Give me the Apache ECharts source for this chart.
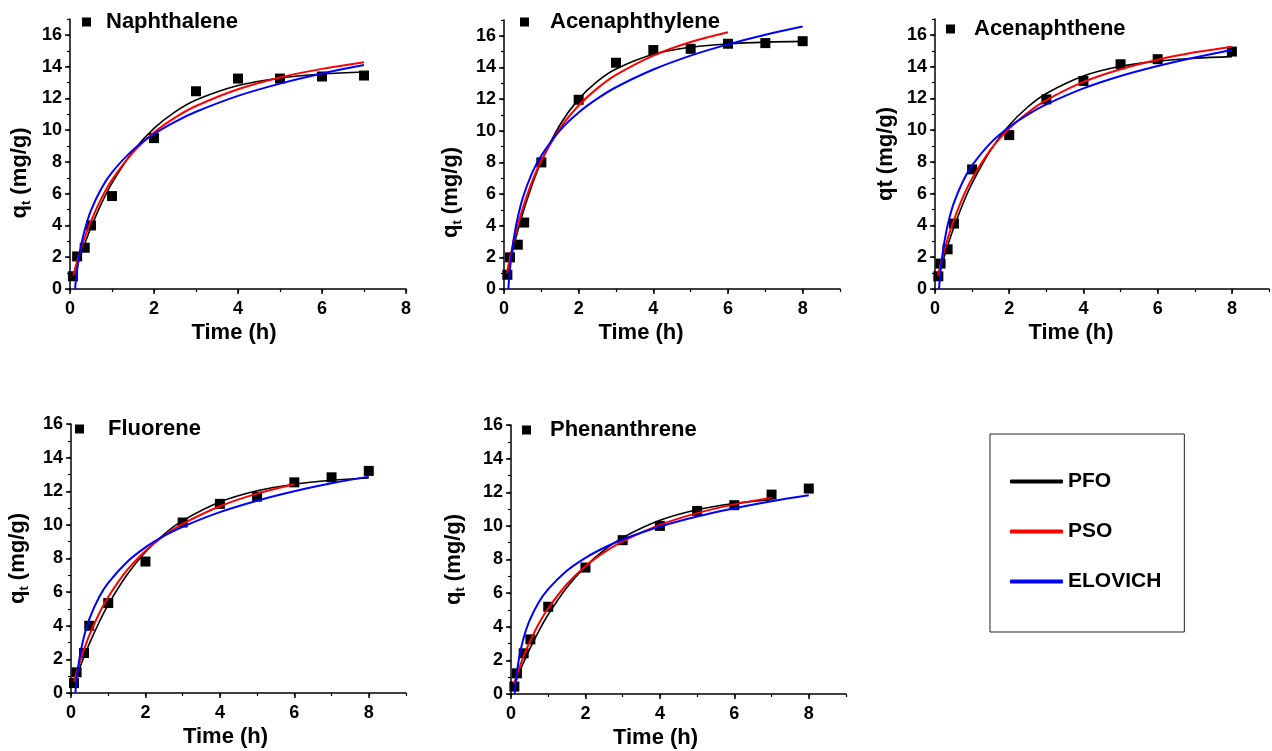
<!DOCTYPE html>
<html>
<head>
<meta charset="utf-8">
<title>Adsorption kinetics of PAHs</title>
<script src="https://cdn.jsdelivr.net/npm/echarts@6/dist/echarts.min.js"></script>
<style>
  html, body { margin: 0; padding: 0; background: #ffffff; }
  #chart { width: 1272px; height: 751px; }
</style>
</head>
<body>
<div id="chart"></div>
<script>
// ---- measured uptake q_t (mg/g) against contact time (h) ----
const tNaph = [0.07, 0.17, 0.35, 0.5, 1, 2, 3, 4, 5, 6, 7];
const qNaph = [0.8, 2.05, 2.6, 4.0, 5.85, 9.5, 12.45, 13.25, 13.25, 13.38, 13.44];

const tAcy = [0.09, 0.16, 0.37, 0.54, 1, 2, 3, 4, 5, 6, 7, 8];
const qAcy = [0.9, 2.0, 2.8, 4.2, 8.0, 11.96, 14.3, 15.1, 15.18, 15.5, 15.54, 15.66];

const tAce = [0.09, 0.15, 0.34, 0.51, 1, 2, 3, 4, 5, 6, 8];
const qAce = [0.8, 1.6, 2.5, 4.12, 7.53, 9.69, 11.94, 13.1, 14.15, 14.47, 14.95];

const tFlu = [0.08, 0.15, 0.35, 0.49, 1, 2, 3, 4, 5, 6, 7, 8];
const qFlu = [0.59, 1.23, 2.38, 4.0, 5.35, 7.82, 10.14, 11.25, 11.68, 12.53, 12.83, 13.21];

const tPhe = [0.09, 0.16, 0.34, 0.52, 1, 2, 3, 4, 5, 6, 7, 8];
const qPhe = [0.44, 1.23, 2.42, 3.25, 5.19, 7.52, 9.15, 10.0, 10.89, 11.23, 11.86, 12.22];

// ---- fitted kinetic curves (PFO / PSO share the time grid below) ----
const fitT = [0.08, 0.15, 0.25, 0.35, 0.5, 0.75, 1, 1.5, 2, 2.5, 3, 4, 5, 6, 7, 8];

const pfoNaph = [0.71, 1.30, 2.10, 2.84, 3.88, 5.39, 6.67, 8.67, 10.11, 11.15, 11.90, 12.81, 13.29, 13.54, 13.66];
const psoNaph = [0.86, 1.55, 2.44, 3.23, 4.28, 5.71, 6.87, 8.60, 9.85, 10.79, 11.52, 12.58, 13.32, 13.86, 14.28];
const eloTNaph = [0.12, 0.15, 0.2, 0.25, 0.35, 0.5, 0.75, 1, 1.5, 2, 2.5, 3, 4, 5, 6, 7];
const eloNaph = [0, 0.77, 1.77, 2.54, 3.71, 4.95, 6.35, 7.35, 8.76, 9.76, 10.53, 11.16, 12.16, 12.93, 13.57, 14.10];

const pfoAcy = [0.88, 1.61, 2.59, 3.51, 4.76, 6.56, 8.07, 10.38, 12.0, 13.12, 13.90, 14.83, 15.28, 15.49, 15.60, 15.65];
const psoAcy = [1.03, 1.85, 2.90, 3.84, 5.08, 6.77, 8.12, 10.15, 11.60, 12.68, 13.53, 14.75, 15.61, 16.23];
const eloTAcy = [0.116, 0.15, 0.2, 0.25, 0.35, 0.5, 0.75, 1, 1.5, 2, 2.5, 3, 4, 5, 6, 7, 8];
const eloAcy = [0, 1.01, 2.14, 3.01, 4.33, 5.73, 7.32, 8.44, 10.03, 11.16, 12.03, 12.75, 13.87, 14.75, 15.46, 16.07, 16.59];

const pfoAce = [0.69, 1.27, 2.05, 2.79, 3.82, 5.35, 6.66, 8.75, 10.31, 11.46, 12.31, 13.41, 14.02, 14.35, 14.53, 14.63];
const psoAce = [0.85, 1.54, 2.43, 3.23, 4.29, 5.77, 6.96, 8.78, 10.10, 11.10, 11.89, 13.04, 13.84, 14.44, 14.90, 15.26];
const eloTAce = [0.108, 0.15, 0.2, 0.25, 0.35, 0.5, 0.75, 1, 1.5, 2, 2.5, 3, 4, 5, 6, 7, 8];
const eloAce = [0, 1.15, 2.15, 2.93, 4.11, 5.36, 6.77, 7.78, 9.20, 10.20, 10.98, 11.62, 12.63, 13.41, 14.04, 14.58, 15.05];

const pfoFlu = [0.53, 0.97, 1.58, 2.16, 2.97, 4.18, 5.26, 7.02, 8.39, 9.44, 10.25, 11.36, 12.03, 12.42, 12.65, 12.79];
const psoFlu = [0.68, 1.22, 1.94, 2.59, 3.47, 4.70, 5.71, 7.29, 8.45, 9.35, 10.06, 11.11, 11.86, 12.42];
const eloTFlu = [0.116, 0.15, 0.2, 0.25, 0.35, 0.5, 0.75, 1, 1.5, 2, 2.5, 3, 4, 5, 6, 7, 8];
const eloFlu = [0, 0.78, 1.66, 2.34, 3.36, 4.44, 5.68, 6.55, 7.78, 8.66, 9.34, 9.89, 10.76, 11.44, 12.00, 12.47, 12.87];

const pfoPhe = [0.47, 0.87, 1.42, 1.94, 2.66, 3.76, 4.73, 6.34, 7.58, 8.55, 9.30, 10.33, 10.96, 11.33, 11.56];
const psoPhe = [0.60, 1.08, 1.72, 2.30, 3.08, 4.19, 5.10, 6.53, 7.60, 8.42, 9.08, 10.06, 10.76, 11.28, 11.68];
const eloTPhe = [0.098, 0.15, 0.2, 0.25, 0.35, 0.5, 0.75, 1, 1.5, 2, 2.5, 3, 4, 5, 6, 7, 8];
const eloPhe = [0, 1.15, 1.92, 2.52, 3.42, 4.38, 5.47, 6.24, 7.33, 8.10, 8.70, 9.19, 9.96, 10.56, 11.05, 11.47, 11.82];

const timeTicks = [0, 2, 4, 6, 8];
const qTicks = [0, 2, 4, 6, 8, 10, 12, 14, 16];
const modelNames = ['PFO', 'PSO', 'ELOVICH'];

// ---- panel layout ----
const FONT = 'Arial, "Liberation Sans", sans-serif';
const NARROW = '"Liberation Sans Narrow", "Arial Narrow", "Liberation Sans", sans-serif';

const panels = [
  { name: 'Naphthalene', t: tNaph, q: qNaph, pfo: pfoNaph, pso: psoNaph, eloT: eloTNaph, elo: eloNaph,
    grid: { left: 70, top: 19, width: 336, height: 270 }, xMax: 8, yMax: 17, sub: true,
    yShift: 19, xShift: -4, yGap: 37, legend: { left: 82, top: 11 }, textPad: 10 },
  { name: 'Acenaphthylene', t: tAcy, q: qAcy, pfo: pfoAcy, pso: psoAcy, eloT: eloTAcy, elo: eloAcy,
    grid: { left: 504, top: 20, width: 336, height: 269 }, xMax: 9, yMax: 17, sub: true,
    yShift: 38, xShift: -31, yGap: 40, legend: { left: 520, top: 11 }, textPad: 16 },
  { name: 'Acenaphthene', t: tAce, q: qAce, pfo: pfoAce, pso: psoAce, eloT: eloTAce, elo: eloAce,
    grid: { left: 935, top: 19, width: 334, height: 270 }, xMax: 9, yMax: 17, sub: false,
    yShift: 0, xShift: -31, yGap: 38, legend: { left: 946, top: 18 }, textPad: 14 },
  { name: 'Fluorene', t: tFlu, q: qFlu, pfo: pfoFlu, pso: psoFlu, eloT: eloTFlu, elo: eloFlu,
    grid: { left: 71, top: 424, width: 335, height: 269 }, xMax: 9, yMax: 16, sub: true,
    yShift: 0, xShift: -13, yGap: 40, legend: { left: 75, top: 418 }, textPad: 19 },
  { name: 'Phenanthrene', t: tPhe, q: qPhe, pfo: pfoPhe, pso: psoPhe, eloT: eloTPhe, elo: eloPhe,
    grid: { left: 511, top: 425, width: 335, height: 269 }, xMax: 9, yMax: 16, sub: true,
    yShift: 0, xShift: -23, yGap: 44, legend: { left: 522, top: 419 }, textPad: 14 }
];

const boldText = { fontFamily: FONT, fontWeight: 'bold', color: '#000' };
const axisLine = { show: true, onZero: false, lineStyle: { color: '#000', width: 1.5 } };

const grids = [], xAxes = [], yAxes = [], series = [], legends = [];

panels.forEach((p, i) => {
  grids.push(Object.assign({ containLabel: false }, p.grid));

  // main time axis (labelled ticks) + minor tick axis
  xAxes.push({
    type: 'value', gridIndex: i, min: 0, max: p.xMax, position: 'bottom',
    axisLine: axisLine,
    axisTick: { show: true, length: 5, customValues: timeTicks, lineStyle: { color: '#000', width: 1.5 } },
    axisLabel: Object.assign({ customValues: timeTicks, fontSize: 18, margin: 11 }, boldText),
    splitLine: { show: false },
    name: 'Time (h)', nameLocation: 'middle', nameGap: 33,
    nameTextStyle: Object.assign({ fontSize: 22,
      padding: p.xShift < 0 ? [0, -2 * p.xShift, 0, 0] : [0, 0, 0, 2 * p.xShift] }, boldText)
  });
  xAxes.push({
    type: 'value', gridIndex: i, min: 0, max: p.xMax, interval: 1, position: 'bottom',
    axisLine: { show: false }, axisLabel: { show: false }, splitLine: { show: false },
    axisTick: { show: true, length: 3, lineStyle: { color: '#000', width: 1.2 } }
  });

  // uptake axis (labelled ticks) + minor tick axis
  yAxes.push({
    type: 'value', gridIndex: i, min: 0, max: p.yMax, position: 'left',
    axisLine: axisLine,
    axisTick: { show: true, length: 5, customValues: qTicks, lineStyle: { color: '#000', width: 1.5 } },
    axisLabel: Object.assign({ customValues: qTicks, fontSize: 18, margin: 8 }, boldText),
    splitLine: { show: false },
    name: p.sub ? 'q{s|t} (mg/g)' : 'qt (mg/g)',
    nameLocation: 'middle', nameGap: p.yGap, nameRotate: 90,
    nameTextStyle: Object.assign({
      fontSize: 22,
      padding: [0, 2 * p.yShift, 0, 0],
      rich: { s: { fontFamily: FONT, fontWeight: 'bold', color: '#000', fontSize: 13, padding: [14, 0, 0, 0] } }
    }, boldText)
  });
  yAxes.push({
    type: 'value', gridIndex: i, min: 0, max: p.yMax, interval: 1, position: 'left',
    axisLine: { show: false }, axisLabel: { show: false }, splitLine: { show: false },
    axisTick: { show: true, length: 3, lineStyle: { color: '#000', width: 1.2 } }
  });

  const ax = { xAxisIndex: 2 * i, yAxisIndex: 2 * i };

  series.push(Object.assign({
    type: 'scatter', name: p.name, symbol: 'rect', symbolSize: 10,
    itemStyle: { color: '#000', opacity: 1 },
    data: p.t.map((t, k) => [t, p.q[k]]), z: 2
  }, ax));

  const curve = (name, ts, vals, color, width) => Object.assign({
    type: 'line', name: name, showSymbol: false, smooth: 0.35,
    lineStyle: { color: color, width: width }, itemStyle: { color: color },
    data: vals.map((v, k) => [ts[k], v]), z: 3
  }, ax);

  series.push(curve('PFO', fitT, p.pfo, '#000000', 1.6));
  series.push(curve('PSO', fitT, p.pso, '#ff0000', 2));
  series.push(curve('ELOVICH', p.eloT, p.elo, '#0000ff', 2));

  legends.push({
    data: [p.name], left: p.legend.left, top: p.legend.top, padding: 0,
    icon: 'rect', itemWidth: 9, itemHeight: 9, selectedMode: false,
    itemStyle: { color: '#000', opacity: 1 },
    textStyle: Object.assign({ fontSize: 22, padding: [0, 0, 0, p.textPad] }, boldText)
  });
});

legends.push({
  data: modelNames, orient: 'vertical', left: 990, top: 434,
  padding: [37, 23, 40, 20], borderColor: '#222', borderWidth: 1,
  itemWidth: 53, itemHeight: 4, itemGap: 29, icon: 'roundRect', selectedMode: false,
  textStyle: { fontFamily: NARROW, fontWeight: 'bold', fontSize: 21, color: '#000' }
});

const chart = echarts.init(document.getElementById('chart'), null, { renderer: 'canvas' });
chart.setOption({
  animation: false,
  backgroundColor: '#ffffff',
  grid: grids,
  xAxis: xAxes,
  yAxis: yAxes,
  legend: legends,
  series: series
});
</script>
</body>
</html>
